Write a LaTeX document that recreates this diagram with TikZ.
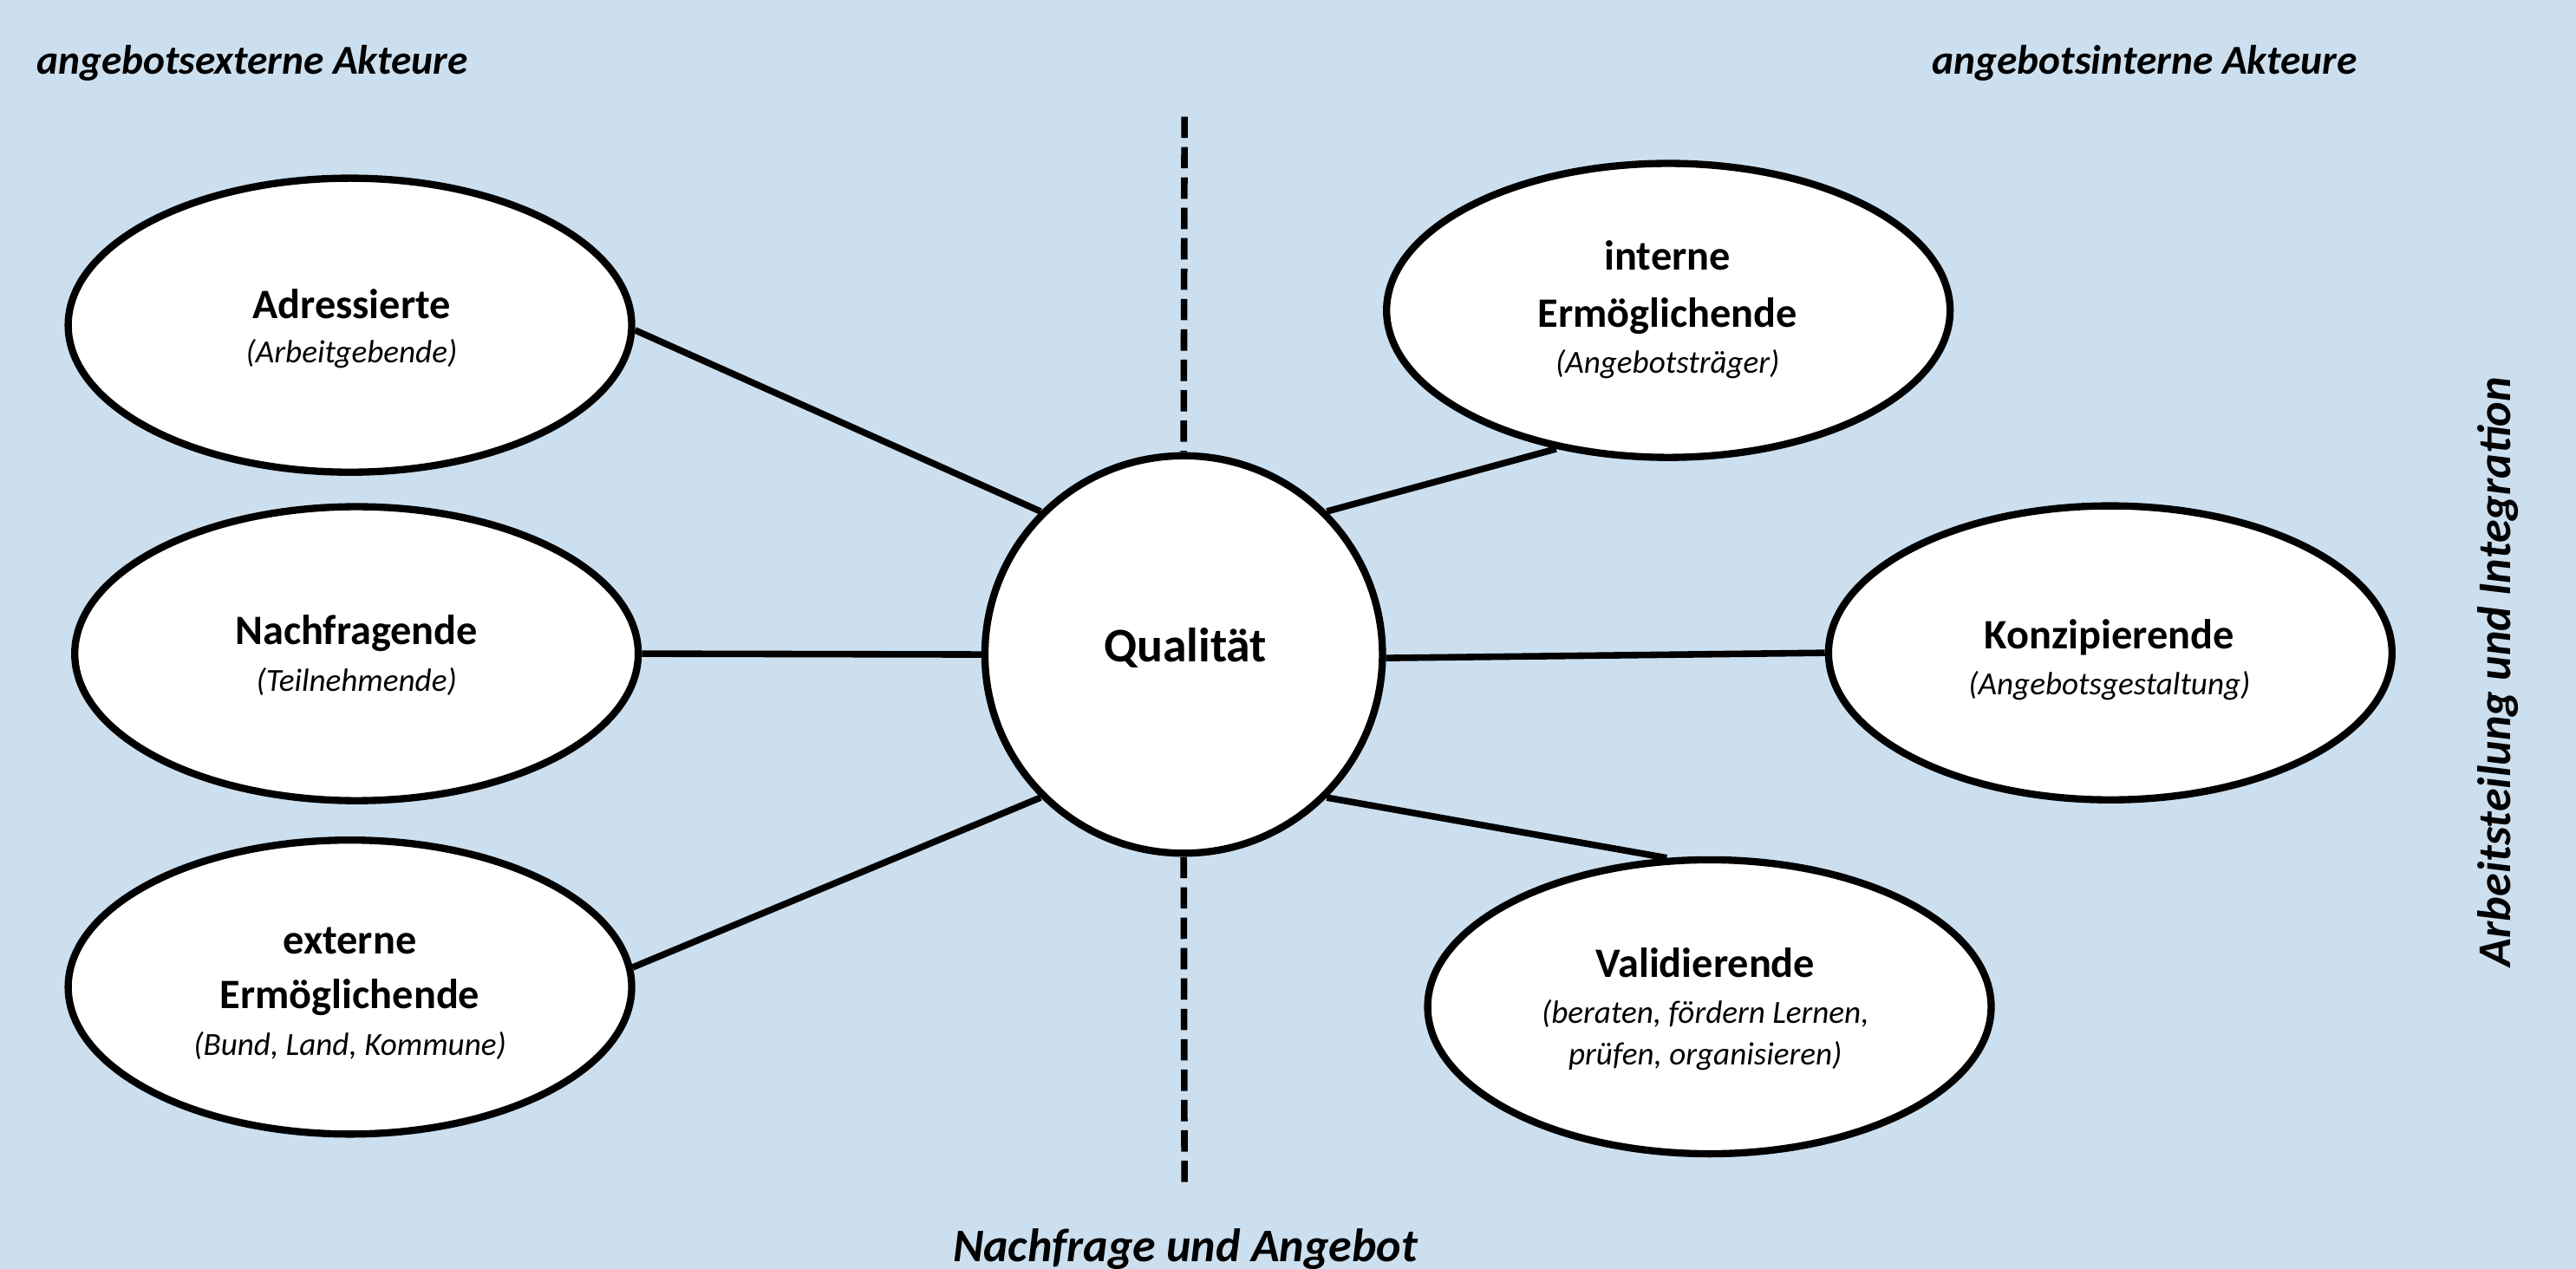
\documentclass[tikz,border=0pt]{standalone}
\usepackage{fontspec}
\setmainfont{Carlito}
\usetikzlibrary{shapes.geometric}
\definecolor{bgblue}{RGB}{204,223,238}
\tikzset{
  ell/.style={ellipse, draw=black, line width=4.4pt, fill=white, minimum width=343pt, minimum height=179pt, inner sep=0pt},
  qual/.style={circle, draw=black, line width=4.4pt, fill=white, minimum size=242pt, inner sep=0pt},
  conn/.style={line width=4pt},
  dashline/.style={line width=4pt, dash pattern=on 13pt off 5.5pt},
  ttl/.style={anchor=base, inner sep=0pt, font=\fontsize{25.5}{29}\selectfont\bfseries},
  subt/.style={anchor=base, inner sep=0pt, font=\fontsize{19.6}{23}\selectfont\itshape},
  hdr/.style={anchor=base west, inner sep=0pt, font=\fontsize{25}{29}\selectfont\bfseries\itshape},
}
\begin{document}
\begin{tikzpicture}[x=1pt, y=-1pt]
\useasboundingbox (0,0) rectangle (1568,772.6);
\fill[bgblue] (0,0) rectangle (1568,772.6);

% headers
\node[hdr] (hl) at (22,45) {angebotsexterne Akteure};
\node[hdr] (hr) at (1176,45) {angebotsinterne Akteure};
\node[anchor=base, inner sep=0pt, font=\fontsize{28.5}{32}\selectfont\bfseries\itshape] (hb) at (721.5,768) {Nachfrage und Angebot};
\node[anchor=base, rotate=90, inner sep=0pt, font=\fontsize{28.6}{32}\selectfont\bfseries\itshape] (hv) at (1528,409) {Arbeitsteilung und Integration};

% nodes
\node[qual] (Q) at (720.5,398.5) {};
\node[ell] (A) at (213,198) {};
\node[ell] (N) at (217,398) {};
\node[ell] (E) at (213,601) {};
\node[ell] (I) at (1015.5,189) {};
\node[ell] (K) at (1284.5,397.5) {};
\node[ell] (V) at (1040.5,613) {};

% dashed axis
\coordinate (dtop) at (721,71);
\coordinate (dbot) at (721,721);
\draw[dashline] (dtop) -- (Q.north);
\draw[dashline] (Q.south) -- (dbot);

% connectors
\draw[conn] (A.-1.5) -- (Q.135);
\draw[conn] (N.east) -- (Q.west);
\draw[conn] (E.4) -- (Q.225);
\draw[conn] (Q.45) -- (I.231);
\draw[conn] (Q.-1) -- (K.west);
\draw[conn] (Q.-45) -- (V.106);

% texts
\node[anchor=base, inner sep=0pt, font=\fontsize{29.4}{33}\selectfont\bfseries] (qt) at (721.5,403) {Qualität};

\node[ttl] (At) at (214,194) {Adressierte};
\node[subt] (As) at (214,221) {(Arbeitgebende)};

\node[ttl] (Nt) at (217,392.5) {Nachfragende};
\node[subt] (Ns) at (217,421) {(Teilnehmende)};

\node[ttl] (Et1) at (213,581) {externe};
\node[ttl] (Et2) at (213,614) {Ermöglichende};
\node[subt] (Es) at (213,642.5) {(Bund, Land, Kommune)};

\node[ttl] (It1) at (1015,164.6) {interne};
\node[ttl] (It2) at (1015,199) {Ermöglichende};
\node[subt] (Is) at (1015,227) {(Angebotsträger)};

\node[ttl] (Kt) at (1284,395) {Konzipierende};
\node[subt] (Ks) at (1284,423) {(Angebotsgestaltung)};

\node[ttl] (Vt) at (1038,595) {Validierende};
\node[subt] (Vs1) at (1038,622.8) {(beraten, fördern Lernen,};
\node[subt] (Vs2) at (1038,648.3) {prüfen, organisieren)};
\end{tikzpicture}
\end{document}
